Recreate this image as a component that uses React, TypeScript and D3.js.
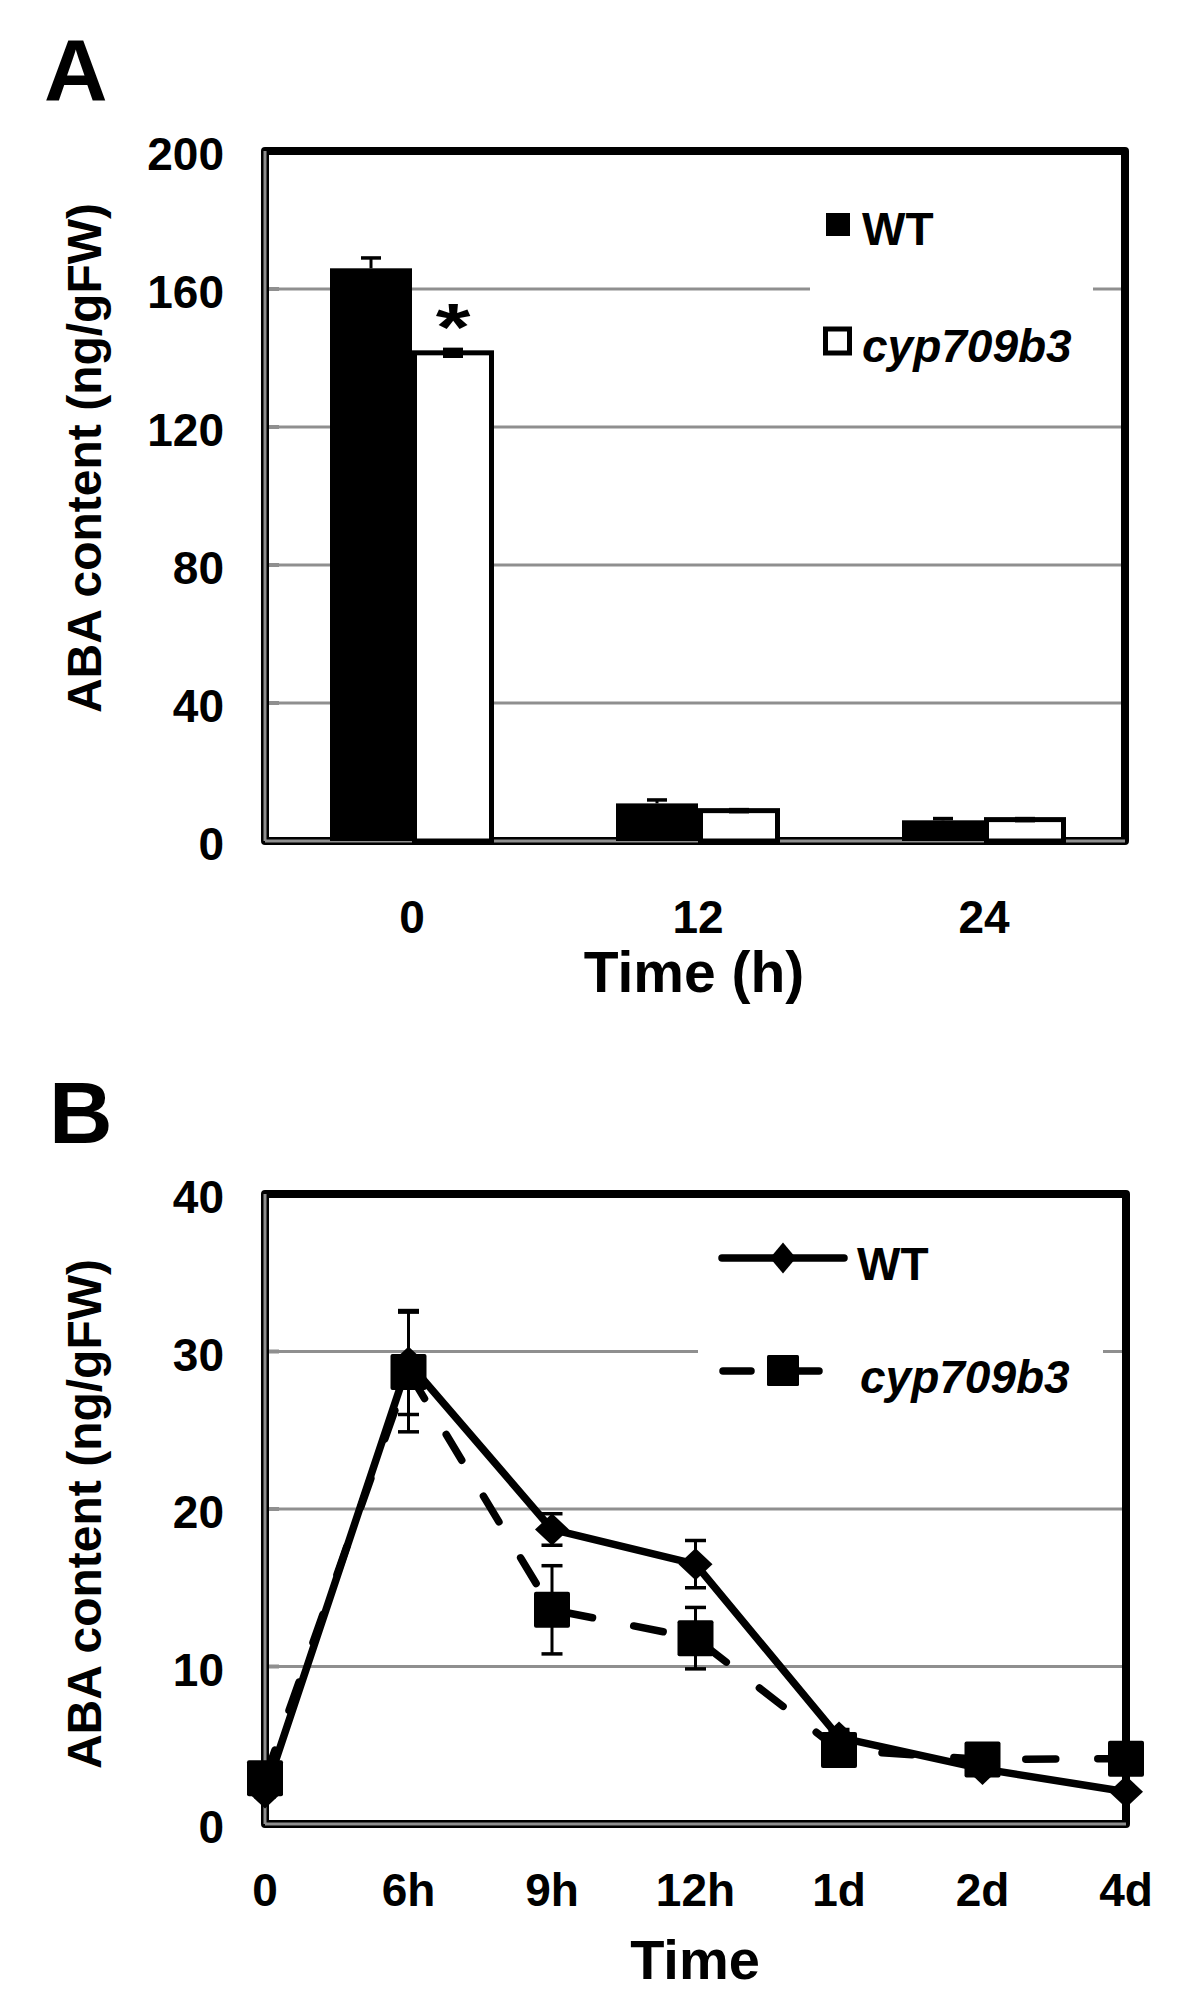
import React from "react";
import { scaleLinear, scaleBand, scalePoint, line } from "d3";

// Panel A: bars
const timesA = ["0", "12", "24"];
const wtA = [166, 10.9, 6.0];
const wtAErr = [3, 1.0, 0.5];
const cypA = [141.5, 8.8, 6.2];
const cypAErr = [1, 0.3, 0.3];
const ticksA = [0, 40, 80, 120, 160, 200];

// Panel B: lines
const timesB = ["0", "6h", "9h", "12h", "1d", "2d", "4d"];
const wtB = [2.0, 29.3, 18.7, 16.5, 5.5, 3.5, 2.05];
const wtBErr = [0.3, 3.3, 1.0, 1.5, 0.5, 0.3, 0.2];
const cypB = [2.9, 28.7, 13.6, 11.8, 4.7, 4.1, 4.15];
const cypBErr = [0.4, 3.8, 2.8, 1.95, 0.4, 0.3, 0.3];
const ticksB = [0, 10, 20, 30, 40];

const FONT = "'Liberation Sans', Arial, Helvetica, sans-serif";
const GRID = "#8f8f8f";

function Frame({ x0, x1, y0, y1 }) {
  return (
    <g>
      <rect x={x0} y={y0} width={x1 - x0} height={y1 - y0} fill="none" stroke="#000" strokeWidth={8} strokeLinejoin="round" />
      <line x1={x0} x2={x0} y1={y0} y2={y1} stroke={GRID} strokeWidth={3} />
      <line x1={x0} x2={x1} y1={y1} y2={y1} stroke={GRID} strokeWidth={3} />
    </g>
  );
}

function YTicks({ ticks, y, x0, x1 }) {
  return (
    <g>
      {ticks.map((t) => (
        <g key={t}>
          {t !== ticks[0] && t !== ticks[ticks.length - 1] && (
            <line x1={x0} x2={x1} y1={y(t)} y2={y(t)} stroke={GRID} strokeWidth={3} />
          )}
          {t !== ticks[0] && <line x1={x0} x2={x0 + 14} y1={y(t)} y2={y(t)} stroke={GRID} strokeWidth={4} />}
          <text x={224} y={y(t) + 19} textAnchor="end" fontSize={46} fontWeight="bold" fontFamily={FONT}>{t}</text>
        </g>
      ))}
    </g>
  );
}

function PanelA() {
  const x0 = 265, x1 = 1125;
  const y = scaleLinear().domain([0, 200]).range([841, 151]);
  const x = scaleBand().domain(timesA).range([269, 1127]).padding(0);
  const c = (t) => x(t) + x.bandwidth() / 2;
  const bw = 82;
  return (
    <g>
      <text x={44} y={100} fontSize={88} fontWeight="bold" fontFamily={FONT}>A</text>
      <YTicks ticks={ticksA} y={y} x0={x0} x1={x1} />
      <rect x={810} y={195} width={283} height={185} fill="#fff" />
      <Frame x0={x0} x1={x1} y0={y(200)} y1={y(0)} />
      {timesA.map((t, i) => (
        <g key={t}>
          <rect x={c(t) - bw} y={y(wtA[i])} width={bw} height={y(0) - y(wtA[i])} fill="#000" />
          <rect x={c(t) + 2.5} y={y(cypA[i])} width={bw - 5} height={y(0) - y(cypA[i])} fill="#fff" stroke="#000" strokeWidth={5} />
          <line x1={c(t) - bw / 2} x2={c(t) - bw / 2} y1={y(wtA[i] + wtAErr[i])} y2={y(wtA[i])} stroke="#000" strokeWidth={3} />
          <line x1={c(t) - bw / 2 - 10} x2={c(t) - bw / 2 + 10} y1={y(wtA[i] + wtAErr[i])} y2={y(wtA[i] + wtAErr[i])} stroke="#000" strokeWidth={3.5} />
          <line x1={c(t) + bw / 2} x2={c(t) + bw / 2} y1={y(cypA[i] + cypAErr[i])} y2={y(cypA[i] - cypAErr[i])} stroke="#000" strokeWidth={3} />
          <line x1={c(t) + bw / 2 - 10} x2={c(t) + bw / 2 + 10} y1={y(cypA[i] + cypAErr[i])} y2={y(cypA[i] + cypAErr[i])} stroke="#000" strokeWidth={3.5} />
          <line x1={c(t) + bw / 2 - 10} x2={c(t) + bw / 2 + 10} y1={y(cypA[i] - cypAErr[i])} y2={y(cypA[i] - cypAErr[i])} stroke="#000" strokeWidth={3.5} />
          <text x={c(t)} y={933} textAnchor="middle" fontSize={46} fontWeight="bold" fontFamily={FONT}>{t}</text>
        </g>
      ))}
      <text transform={`translate(${c("0") + bw / 2}, 350) scale(1.35,1)`} textAnchor="middle" fontSize={66} fontWeight="bold" fontFamily={FONT}>*</text>
      {/* legend */}
      <rect x={826} y={213} width={24} height={23} fill="#000" />
      <text x={862} y={245} fontSize={46} fontWeight="bold" fontFamily={FONT}>WT</text>
      <rect x={825.5} y={329} width={24} height={24} fill="#fff" stroke="#000" strokeWidth={5} />
      <text x={862} y={362} fontSize={46} fontWeight="bold" fontStyle="italic" fontFamily={FONT}>cyp709b3</text>
      <text transform="translate(101, 458) rotate(-90)" textAnchor="middle" fontSize={48} fontWeight="bold" fontFamily={FONT}>ABA content (ng/gFW)</text>
      <text x={694} y={992} textAnchor="middle" fontSize={57} fontWeight="bold" fontFamily={FONT}>Time (h)</text>
    </g>
  );
}

const diamond = (cx, cy, hw, hh) => `M${cx},${cy - hh}L${cx + hw},${cy}L${cx},${cy + hh}L${cx - hw},${cy}Z`;

function ErrBar({ cx, yHi, yLo }) {
  return (
    <g stroke="#000">
      <line x1={cx} x2={cx} y1={yHi} y2={yLo} strokeWidth={3} />
      <line x1={cx - 10.5} x2={cx + 10.5} y1={yHi} y2={yHi} strokeWidth={3.5} />
      <line x1={cx - 10.5} x2={cx + 10.5} y1={yLo} y2={yLo} strokeWidth={3.5} />
    </g>
  );
}

function PanelB() {
  const x0 = 265, x1 = 1126;
  const y = scaleLinear().domain([0, 40]).range([1824, 1194]);
  const x = scalePoint().domain(timesB).range([x0, x1]).padding(0);
  const seriesLine = line().x((d, i) => x(timesB[i])).y((d) => y(d));
  return (
    <g>
      <text x={49} y={1143} fontSize={88} fontWeight="bold" fontFamily={FONT}>B</text>
      <YTicks ticks={ticksB} y={y} x0={x0} x1={x1} />
      <rect x={698} y={1215} width={405} height={195} fill="#fff" />
      <Frame x0={x0} x1={x1} y0={y(40)} y1={y(0)} />
      <path d={seriesLine(wtB)} fill="none" stroke="#000" strokeWidth={7.5} strokeLinejoin="round" strokeLinecap="round" />
      <path d={seriesLine(cypB)} fill="none" stroke="#000" strokeWidth={7.5} strokeDasharray="30 42" strokeLinecap="round" strokeLinejoin="round" />
      {timesB.map((t, i) => (
        <g key={t}>
          <path d={diamond(x(t), y(wtB[i]), 17, 16)} fill="#000" />
          <rect x={x(t) - 18} y={y(cypB[i]) - 18} width={36} height={36} fill="#000" rx={2} />
          <ErrBar cx={x(t)} yHi={y(wtB[i] + wtBErr[i])} yLo={y(wtB[i] - wtBErr[i])} />
          <ErrBar cx={x(t)} yHi={y(cypB[i] + cypBErr[i])} yLo={y(cypB[i] - cypBErr[i])} />
          <text x={x(t)} y={1906} textAnchor="middle" fontSize={46} fontWeight="bold" fontFamily={FONT}>{t}</text>
        </g>
      ))}
      {/* legend */}
      <line x1={722} x2={844} y1={1258} y2={1258} stroke="#000" strokeWidth={7.5} strokeLinecap="round" />
      <path d={diamond(783, 1258, 13, 15.5)} fill="#000" />
      <text x={857} y={1280} fontSize={46} fontWeight="bold" fontFamily={FONT}>WT</text>
      <line x1={723} x2={751} y1={1371} y2={1371} stroke="#000" strokeWidth={7.5} strokeLinecap="round" />
      <line x1={795} x2={819} y1={1371} y2={1371} stroke="#000" strokeWidth={7.5} strokeLinecap="round" />
      <rect x={767} y={1355} width={32} height={31} fill="#000" rx={1.5} />
      <text x={860} y={1393} fontSize={46} fontWeight="bold" fontStyle="italic" fontFamily={FONT}>cyp709b3</text>
      <text transform="translate(101, 1514) rotate(-90)" textAnchor="middle" fontSize={48} fontWeight="bold" fontFamily={FONT}>ABA content (ng/gFW)</text>
      <text x={695} y={1979} textAnchor="middle" fontSize={56} fontWeight="bold" fontFamily={FONT}>Time</text>
    </g>
  );
}

export default function App() {
  return (
    <svg width={1200} height={2008} viewBox="0 0 1200 2008" style={{ position: "absolute", left: 0, top: 0, background: "#fff" }}>
      <rect width={1200} height={2008} fill="#fff" />
      <PanelA />
      <PanelB />
    </svg>
  );
}
